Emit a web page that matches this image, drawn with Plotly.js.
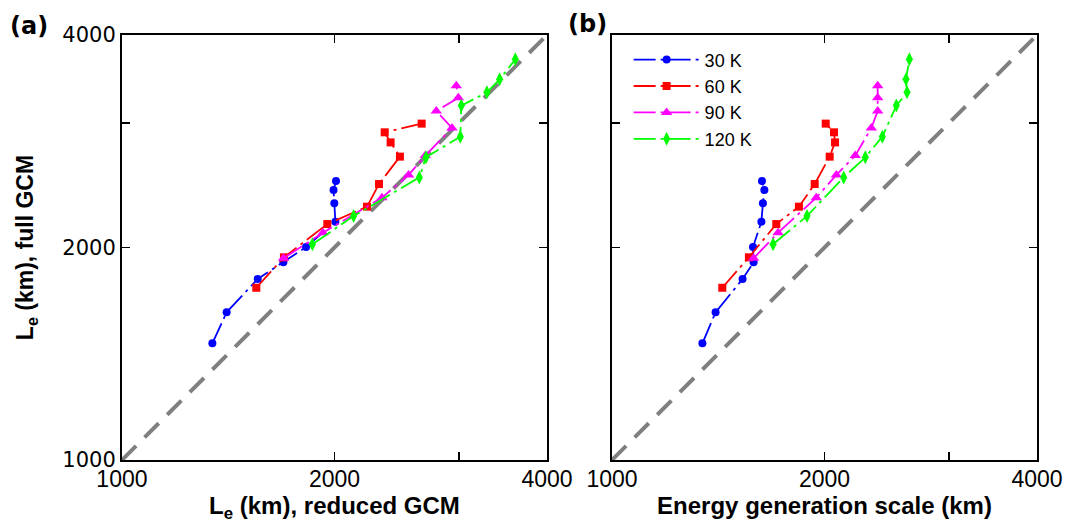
<!DOCTYPE html>
<html>
<head>
<meta charset="utf-8">
<script src="https://cdn.plot.ly/plotly-3.0.1.min.js"></script>
<style>html,body{margin:0;padding:0;background:#fff;}#chart{width:1066px;height:524px;}</style>
</head>
<body>
<div id="chart"></div>
<script>
// Series labels
var seriesNames = ['30 K', '60 K', '90 K', '120 K'];
// L_e full GCM (y, shared by both panels)
var full30 = [1463, 1619, 1805, 1906, 2003, 2176, 2310, 2413, 2485];
var full60 = [1754, 1937, 2159, 2285, 2460, 2690, 2818, 2912, 2996];
var full90 = [1931, 2099, 2353, 2534, 2699, 2954, 3122, 3260, 3391];
var full120 = [2021, 2216, 2514, 2684, 2871, 3177, 3318, 3461, 3695];
// L_e reduced GCM (panel a x)
var red30 = [1343, 1407, 1557, 1693, 1823, 2006, 1999, 1994, 2010];
var red60 = [1550, 1696, 1954, 2224, 2313, 2476, 2402, 2356, 2658];
var red90 = [1694, 1926, 2335, 2547, 2690, 2934, 2788, 2996, 2976];
var red120 = [1861, 2129, 2638, 2696, 3015, 3025, 3289, 3428, 3608];
// Energy generation scale (panel b x)
var egs30 = [1343, 1402, 1531, 1587, 1584, 1628, 1636, 1644, 1631];
var egs60 = [1433, 1563, 1709, 1840, 1937, 2034, 2070, 2063, 2008];
var egs90 = [1587, 1719, 1947, 2079, 2211, 2330, 2379, 2379, 2379];
var egs120 = [1691, 1889, 2129, 2285, 2415, 2528, 2618, 2609, 2638];
// one-to-one line
var diag = [1000, 4000];
// ticks
var tickVals = [1000, 2000, 4000];
var tickText = ['1000', '2000', '4000'];
var minorTickVals = [3000];

var colors = ['#0000ff', '#ff0000', '#ff00ff', '#00ff00'];
var symbols = ['circle', 'square', 'triangle-up', 'diamond-tall'];
var sizes = [8, 8, 10, 10];
var fulls = [full30, full60, full90, full120];
var reds = [red30, red60, red90, red120];
var egss = [egs30, egs60, egs90, egs120];
var dashPat = '22px,5px,3px,5px';

var traces = [];
traces.push({x: diag, y: diag, xaxis: 'x', yaxis: 'y', mode: 'lines', showlegend: false,
  line: {color: '#808080', width: 4, dash: '20px,12px'}, hoverinfo: 'skip'});
traces.push({x: diag, y: diag, xaxis: 'x2', yaxis: 'y2', mode: 'lines', showlegend: false,
  line: {color: '#808080', width: 4, dash: '20px,12px'}, hoverinfo: 'skip'});
for (var i = 0; i < 4; i++) {
  traces.push({x: reds[i], y: fulls[i], xaxis: 'x', yaxis: 'y', mode: 'lines+markers',
    name: seriesNames[i], showlegend: false,
    line: {color: colors[i], width: 1.8, dash: dashPat},
    marker: {color: colors[i], symbol: symbols[i], size: sizes[i]}});
}
for (var j = 0; j < 4; j++) {
  traces.push({x: egss[j], y: fulls[j], xaxis: 'x2', yaxis: 'y2', mode: 'lines+markers',
    name: seriesNames[j], showlegend: true,
    line: {color: colors[j], width: 1.8, dash: dashPat},
    marker: {color: colors[j], symbol: symbols[j], size: sizes[j]}});
}

var xtickFont = {family: 'Liberation Sans, Arial, sans-serif', size: 23, color: '#000'};
var ytickFont = {family: 'DejaVu Sans, sans-serif', size: 21, color: '#000'};
var titleFont = {family: 'Liberation Sans, Arial, sans-serif', size: 24, color: '#000', weight: 'bold'};

function axisBase() {
  return {type: 'log', range: [3, Math.log10(4000)], tickmode: 'array', tickvals: tickVals,
    ticktext: tickText, ticks: 'inside', ticklen: 8, tickwidth: 1.5, tickcolor: '#000',
    minor: {tickmode: 'array', tickvals: minorTickVals, ticks: 'inside', ticklen: 8, tickwidth: 1.5, tickcolor: '#000', showgrid: false},
    showline: true, linecolor: '#000', linewidth: 2, mirror: 'ticks', showgrid: false,
    zeroline: false, fixedrange: true};
}
var xa = axisBase(); xa.domain = [0.1144, 0.5131]; xa.anchor = 'y'; xa.tickfont = xtickFont;
xa.ticklabelstandoff = -3;
xa.title = {text: 'L<sub>e</sub> (km), reduced GCM', font: titleFont, standoff: 0};
var ya = axisBase(); ya.domain = [0.1221, 0.9332]; ya.anchor = 'x'; ya.tickfont = ytickFont;
ya.title = {text: 'L<sub>e</sub> (km), full GCM', font: {family: 'Liberation Sans, Arial, sans-serif', size: 23, color: '#000', weight: 'bold'}, standoff: 22};
var xb = axisBase(); xb.domain = [0.5741, 0.9728]; xb.anchor = 'y2'; xb.tickfont = xtickFont;
xb.ticklabelstandoff = -3;
xb.title = {text: 'Energy generation scale (km)', font: titleFont, standoff: 0};
var yb = axisBase(); yb.domain = [0.1221, 0.9332]; yb.anchor = 'x2'; yb.showticklabels = false;

var layout = {
  width: 1066, height: 524,
  margin: {l: 0, r: 0, t: 0, b: 0},
  paper_bgcolor: '#fff', plot_bgcolor: '#fff',
  xaxis: xa, yaxis: ya, xaxis2: xb, yaxis2: yb,
  showlegend: true,
  legend: {x: 0.5897, y: 0.921, xanchor: 'left', yanchor: 'top', bgcolor: 'rgba(0,0,0,0)',
    borderwidth: 0, itemwidth: 66, font: {family: 'Liberation Sans, Arial, sans-serif', size: 18, color: '#000'}},
  annotations: [
    {text: '<b>(a)</b>', xref: 'paper', yref: 'paper', x: 0.0272, y: 0.951, xanchor: 'center', yanchor: 'middle',
      showarrow: false, font: {family: 'DejaVu Sans, sans-serif', size: 24, color: '#000'}},
    {text: '<b>(b)</b>', xref: 'paper', yref: 'paper', x: 0.5507, y: 0.954, xanchor: 'center', yanchor: 'middle',
      showarrow: false, font: {family: 'DejaVu Sans, sans-serif', size: 24, color: '#000'}}
  ]
};
Plotly.newPlot('chart', traces, layout, {staticPlot: true, displayModeBar: false});
</script>
</body>
</html>
